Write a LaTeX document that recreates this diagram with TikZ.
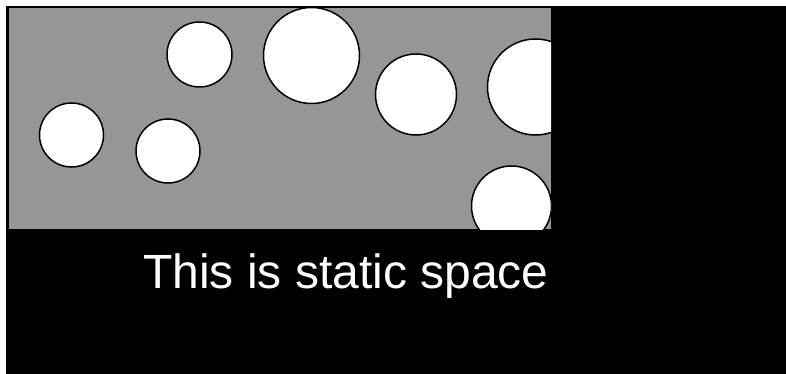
\documentclass[tikz,border=0pt]{standalone}
\usepackage{fontspec}
\setmainfont{Liberation Sans}
\usepackage{xcolor}
\usepackage{tikz}
\definecolor{viewgray}{RGB}{150,150,150}

\begin{document}
\begin{tikzpicture}[
    x=1pt, y=-1pt,
    static/.style={fill=black},
    view/.style={fill=viewgray},
    bubble/.style={draw=black, fill=white, line width=1.5pt},
    caption/.style={text=white, font=\fontsize{48}{58}\selectfont, anchor=base, inner sep=0pt}
]
\useasboundingbox (0,0) rectangle (786,374);
\fill[static] (6,6) rectangle (786,374);
\fill[view] (9,8.5) rectangle (551,229);
\begin{scope}
  \clip (9,8.5) rectangle (551,229);
  \draw[bubble] (71.5,135) circle (32);
  \draw[bubble] (168,151) circle (32);
  \draw[bubble] (199.5,54.5) circle (32.5);
  \draw[bubble] (311.5,55.5) circle (48);
  \draw[bubble] (416,94.5) circle (40.5);
  \draw[bubble] (535.5,87) circle (48);
  \draw[bubble] (511.5,206) circle (40);
\end{scope}
\node[caption] (label) at (346,288) {This is static space};
\end{tikzpicture}
\end{document}
